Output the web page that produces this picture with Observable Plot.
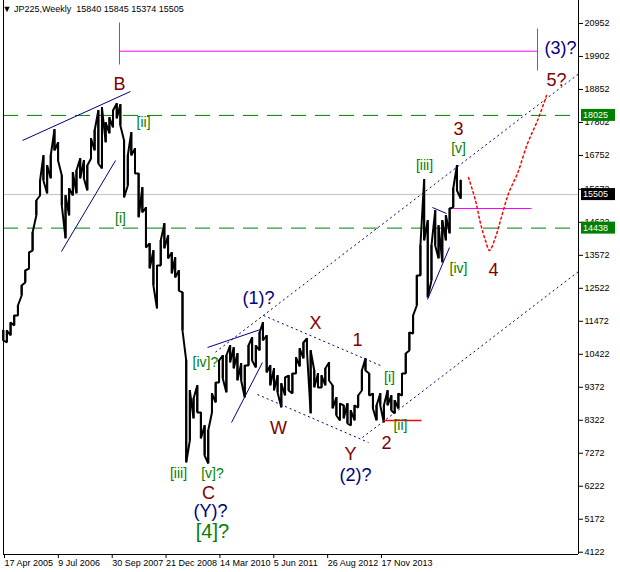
<!DOCTYPE html>
<html><head><meta charset="utf-8">
<script src="https://cdn.jsdelivr.net/npm/d3@7"></script>
<script src="https://cdn.jsdelivr.net/npm/@observablehq/plot@0.6"></script>
<style>
body{margin:0;background:#fff;}
#chart svg{display:block;}
</style></head><body><div id="chart"></div>
<script>
// ---- header ----
const symbol = "JP225", period = "Weekly";
const ohlc = [15840, 15845, 15374, 15505];

// ---- monthly price range ----
const months = [
 "2005-04","2005-05","2005-06","2005-07","2005-08","2005-09","2005-10","2005-11","2005-12",
 "2006-01","2006-02","2006-03","2006-04","2006-05","2006-06","2006-07","2006-08","2006-09","2006-10","2006-11","2006-12",
 "2007-01","2007-02","2007-03","2007-04","2007-05","2007-06","2007-07","2007-08","2007-09","2007-10","2007-11","2007-12",
 "2008-01","2008-02","2008-03","2008-04","2008-05","2008-06","2008-07","2008-08","2008-09","2008-10","2008-11","2008-12",
 "2009-01","2009-02","2009-03","2009-04","2009-05","2009-06","2009-07","2009-08","2009-09","2009-10","2009-11","2009-12",
 "2010-01","2010-02","2010-03","2010-04","2010-05","2010-06","2010-07","2010-08","2010-09","2010-10","2010-11","2010-12",
 "2011-01","2011-02","2011-03","2011-04","2011-05","2011-06","2011-07","2011-08","2011-09","2011-10","2011-11","2011-12",
 "2012-01","2012-02","2012-03","2012-04","2012-05","2012-06","2012-07","2012-08","2012-09","2012-10","2012-11","2012-12",
 "2013-01","2013-02","2013-03","2013-04","2013-05","2013-06","2013-07","2013-08","2013-09","2013-10","2013-11","2013-12",
 "2014-01","2014-02","2014-03","2014-04","2014-05","2014-06","2014-07","2014-08","2014-09","2014-10","2014-11","2014-12",
 "2015-01","2015-02","2015-03","2015-04","2015-05","2015-06","2015-07","2015-08","2015-09"
];
const high = [
 11179,11179,11434,11656,11975,12611,13089,13662,14298,
 15317,15953,16749,16431,16749,17577,17163,16113,15476,15699,16208,16272,
 16654,16590,16431,17290,17545,18182,18277,17799,17958,18182,18405,18373,
 17227,16749,17481,16972,16176,15731,15094,13949,13725,13248,14044,14585,
 14202,13662,13503,13089,12389,10224,9269,9014,9428,8569,8155,7996,
 9173,9523,10224,10383,10383,10701,10638,10447,10129,10065,10701,10956,
 10701,11115,11434,11020,10065,9969,9746,9492,9683,9746,9810,10320,
 10606,10797,10924,10542,9906,9810,9746,9969,10160,9428,9046,8855,
 8792,8855,8633,8792,9110,9906,10288,9810,9173,8792,9173,8792,
 9269,9110,8951,9173,9810,10447,11115,11656,12929,13885,15985,14680,
 13885,14999,14521,14680,14840,15062,15699,16431,15953
];
const low = [
 10861,10797,11020,11338,11656,12293,12707,13152,13725,
 14840,15476,15953,15540,16017,16908,16590,15158,14107,14840,15476,15540,
 16017,16017,15635,16654,16908,16495,16336,17163,17449,17640,17927,17704,
 15412,15794,16749,16176,14776,14935,13821,13153,12611,11879,13248,13789,
 13471,12993,12866,12452,11179,6977,7678,8378,8569,7741,7200,6946,
 8569,8887,9523,9651,9205,10160,9969,9587,9587,9046,10065,10224,
 10002,10542,10861,9842,9428,9269,9205,8728,9110,9269,9173,9810,
 10033,10288,10542,8537,9364,9364,9364,9428,9587,8696,8473,8314,
 8378,8219,8155,8314,8728,9269,9906,9110,8696,8314,8792,8251,
 8792,8633,8537,8696,9110,9810,10542,11083,11975,12929,14044,12229,
 12770,13885,13471,13343,14044,14266,15094,15635,15374
];

// ---- axes ----
const dateTicks = ["2005-04-17","2006-07-09","2007-09-30","2008-12-21","2010-03-14","2011-06-05","2012-08-26","2013-11-17"];
const priceTicks = [4122,5172,6222,7272,8322,9372,10422,11472,12522,13572,14622,15672,16752,17802,18852,19902,20952];
const xStart = "2005-04-17", xEnd = "2018-05-22";
const yMin = 4049, yMax = 21683;

// ---- levels ----
const lastPrice = 15505;
const levelLines = [18025, 14438];

// ---- drawn objects [date1, price1, date2, price2] ----
const navySolid = [
 ["2005-09-22",17227,"2008-03-08",18786],
 ["2006-08-12",13693,"2007-11-05",16590],
 ["2009-12-09",10638,"2011-02-23",11211],
 ["2010-06-27",8251,"2011-03-11",10160],
 ["2015-01-23",15094,"2015-05-20",14903],
 ["2014-12-13",12166,"2015-06-14",13821]
];
const navyDotted = [
 ["2010-02-13",10491,"2018-05-22",19343],
 ["2013-06-20",7773,"2018-05-22",13057],
 ["2011-03-20",11656,"2013-11-17",10065],
 ["2011-01-29",9142,"2013-08-09",7614]
];
const magentaLines = [
 ["2007-12-08",20069,"2017-06-15",20069],
 ["2007-12-08",19646,"2007-12-08",20983],
 ["2017-06-15",19455,"2017-06-15",20791],
 ["2015-07-17",15062,"2017-04-26",15062]
];
const redSolid = [["2013-12-12",8314,"2014-10-24",8314]];
const projection = [
 ["2015-11-19",16049],["2016-01-16",15317],["2016-02-27",14585],["2016-04-08",14044],
 ["2016-05-12",13725],["2016-06-30",14139],["2016-08-11",14680],["2016-10-17",15540],
 ["2016-12-30",16176],["2017-03-24",17131],["2017-06-15",17863],["2017-08-29",18659]
];

// ---- wave labels [text, date, price] ----
const redLabels = [
 ["B","2007-12-08",19009],["X","2012-05-25",11402],["W","2011-07-22",8060],
 ["1","2013-05-10",10861],["Y","2013-03-12",7232],["2","2014-01-06",7582],
 ["C","2009-12-17",5991],["3","2015-08-28",17577],["4","2016-06-14",13089],
 ["5?","2017-11-20",19136]
];
const navyLabels = [
 ["(1)?","2011-02-06",12198],["(2)?","2013-04-23",6564],
 ["(Y)?","2010-01-03",5418],["(3)?","2017-12-23",20155]
];
const greenLabels = [
 ["[ii]","2008-06-25",17800],["[i]","2007-12-16",14744],
 ["[iii]","2009-04-12",6627],["[v]?","2010-01-19",6627],["[iv]?","2009-11-22",10160],
 ["[i]","2014-01-31",9683],["[ii]","2014-05-02",8155],
 ["[iii]","2014-11-18",16431],["[v]","2015-08-28",16972],["[iv]","2015-08-28",13152]
];
const degreeLabels = [["[4]?","2010-01-19",4781]];

// ---- build ----
const pd = d3.utcParse("%Y-%m-%d");
const bars = months.map((m, i) => ({date: pd(m + "-15"), hi: high[i], lo: low[i]}));
// trace each month's range as a connected stroke (low->high when the next month is higher)
const pricePath = [];
bars.forEach((b, i) => {
  const next = bars[i + 1] || b;
  const up = (next.hi + next.lo) >= (b.hi + b.lo);
  const a = up ? [b.lo, b.hi] : [b.hi, b.lo];
  pricePath.push({date: b.date, p: a[0]}, {date: b.date, p: a[1]});
});
const seg = a => a.map(([d1, p1, d2, p2]) => ({x1: pd(d1), y1: p1, x2: pd(d2), y2: p2}));
const lab = a => a.map(([t, d, p]) => ({t, x: pd(d), y: p}));
const proj = projection.map(([d, p]) => ({x: pd(d), y: p}));
const FONT = "Liberation Sans, Arial, sans-serif";
const nb = "\u00a0";
const header = "\u25BC" + nb + symbol + "," + period + nb + nb + ohlc.join(nb);

const plot = Plot.plot({
  width: 620, height: 572,
  marginLeft: 3, marginRight: 42, marginTop: 0, marginBottom: 18,
  style: {fontFamily: FONT, fontSize: "9px", background: "#fff", color: "#000", overflow: "visible"},
  x: {type: "utc", domain: [pd(xStart), pd(xEnd)]},
  y: {domain: [yMin, yMax]},
  marks: [
    Plot.ruleY(levelLines, {stroke: "#008000", strokeDasharray: "15,9"}),
    Plot.ruleY([lastPrice], {stroke: "#c0c0c0"}),
    Plot.line(pricePath, {x: "date", y: "p", stroke: "#000", strokeWidth: 2, strokeLinejoin: "miter"}),
    Plot.ruleX(bars, {x: "date", y1: "lo", y2: "hi", stroke: "#000", strokeWidth: 2}),
    Plot.link(seg(navySolid), {x1: "x1", y1: "y1", x2: "x2", y2: "y2", stroke: "#000080"}),
    Plot.link(seg(navyDotted), {x1: "x1", y1: "y1", x2: "x2", y2: "y2", stroke: "#000080", strokeDasharray: "2,3"}),
    Plot.link(seg(magentaLines), {x1: "x1", y1: "y1", x2: "x2", y2: "y2", stroke: "#ff00ff"}),
    Plot.link(seg(redSolid), {x1: "x1", y1: "y1", x2: "x2", y2: "y2", stroke: "#ff0000", strokeWidth: 1.5}),
    Plot.line(proj, {x: "x", y: "y", stroke: "#ff0000", strokeDasharray: "2,3", curve: "catmull-rom"}),
    Plot.text(lab(redLabels), {x: "x", y: "y", text: "t", fill: "#800000", fontSize: 18}),
    Plot.text(lab(navyLabels), {x: "x", y: "y", text: "t", fill: "#000080", fontSize: 18}),
    Plot.text(lab(greenLabels), {x: "x", y: "y", text: "t", fill: "#008000", fontSize: 14}),
    Plot.text(lab(degreeLabels), {x: "x", y: "y", text: "t", fill: "#008000", fontSize: 20}),
    Plot.text([header], {frameAnchor: "top-left", dx: -1, dy: 5, textAnchor: "start", lineAnchor: "top", fill: "#000", fontSize: 9}),
    Plot.ruleX([pd(xStart)], {stroke: "#000"}),
    Plot.ruleX([pd(xEnd)], {stroke: "#000"}),
    Plot.ruleY([yMin], {stroke: "#000"}),
    Plot.axisX({ticks: dateTicks.map(pd), tickFormat: d3.utcFormat("%-d %b %Y"), tickSize: 4, tickPadding: 1, textAnchor: "start", dx: 1, label: null, fontSize: 9}),
    Plot.axisY({anchor: "right", ticks: priceTicks, tickFormat: d3.format("d"), tickSize: 4, tickPadding: 2, label: null, fontSize: 9})
  ]
});
document.getElementById("chart").appendChild(plot);

// price tags on the right scale
const ys = plot.scale("y");
const svg = d3.select(plot);
[[levelLines[0], "#008000"], [lastPrice, "#000"], [levelLines[1], "#008000"]].forEach(([v, c]) => {
  const yy = ys.apply(v);
  const g = svg.append("g");
  g.append("rect").attr("x", 581).attr("y", yy - 6).attr("width", 34).attr("height", 12).attr("fill", c);
  g.append("text").attr("x", 583).attr("y", yy).attr("dy", "0.35em").attr("fill", "#fff")
    .attr("text-anchor", "start").attr("font-family", FONT).attr("font-size", 9).text(v);
});
</script></body></html>
